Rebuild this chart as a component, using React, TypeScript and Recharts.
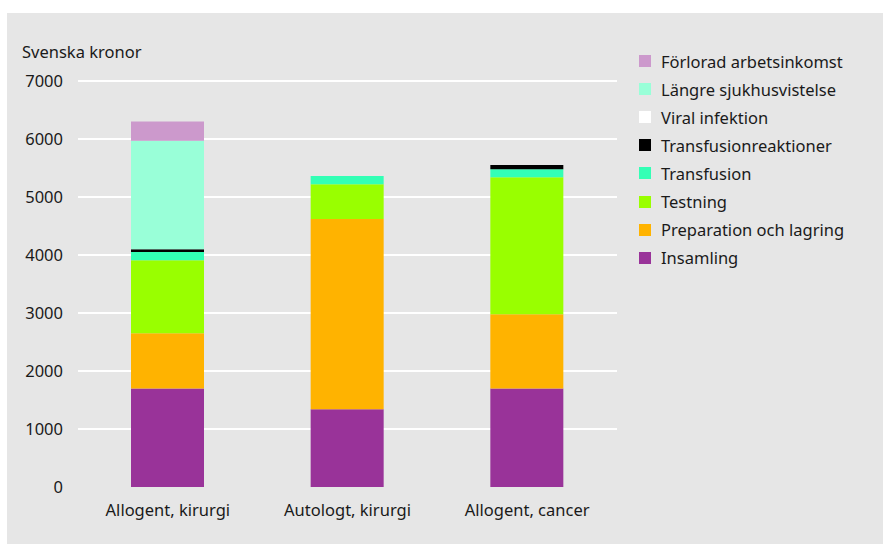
import React from 'react'
import { BarChart, Bar, XAxis, YAxis, CartesianGrid } from 'recharts'

const CATEGORIES = ['Allogent, kirurgi', 'Autologt, kirurgi', 'Allogent, cancer']
const INSAMLING = [1700, 1340, 1700]
const PREPARATION = [950, 3280, 1280]
const TESTNING = [1260, 600, 2360]
const TRANSFUSION = [140, 140, 140]
const REAKTIONER = [50, 0, 70]
const VIRAL = [0, 0, 0]
const LANGRE = [1870, 0, 0]
const FORLORAD = [330, 0, 0]
const Y_TICKS = [0, 1000, 2000, 3000, 4000, 5000, 6000, 7000]
const Y_MAX = 7000

// stacking order bottom -> top
const SERIES = [
  { key: 'insamling', name: 'Insamling', color: '#993399', values: INSAMLING },
  { key: 'preparation', name: 'Preparation och lagring', color: '#ffb300', values: PREPARATION },
  { key: 'testning', name: 'Testning', color: '#99ff00', values: TESTNING },
  { key: 'transfusion', name: 'Transfusion', color: '#33ffb5', values: TRANSFUSION },
  { key: 'reaktioner', name: 'Transfusionreaktioner', color: '#000000', values: REAKTIONER },
  { key: 'viral', name: 'Viral infektion', color: '#ffffff', values: VIRAL },
  { key: 'langre', name: 'Längre sjukhusvistelse', color: '#99ffd8', values: LANGRE },
  { key: 'forlorad', name: 'Förlorad arbetsinkomst', color: '#cc99cc', values: FORLORAD },
]

const data = CATEGORIES.map((name, i) => {
  const row: Record<string, string | number> = { name }
  SERIES.forEach((s) => {
    row[s.key] = s.values[i]
  })
  return row
})

const FONT = '"Noto Sans", sans-serif'
const TEXT = '#1a1a1a'
const FS = 16.5

// grid lines at every tick except the baseline
const gridLines = ({ yAxis, offset }: any) =>
  Y_TICKS.filter((t) => t > 0).map((t) => {
    if (yAxis && typeof yAxis.scale === 'function') return yAxis.scale(t)
    return offset.top + offset.height * (1 - t / Y_MAX)
  })

export default function App() {
  return (
    <div
      style={{
        position: 'absolute',
        left: 0,
        top: 0,
        width: 883,
        height: 544,
        background: '#ffffff',
        fontFamily: FONT,
        color: TEXT,
      }}
    >
      <div
        style={{
          position: 'absolute',
          left: 7,
          top: 13,
          width: 876,
          height: 531,
          background: '#e6e6e6',
        }}
      />
      <div style={{ position: 'absolute', left: 0, top: 0 }}>
        <BarChart
          width={883}
          height={544}
          data={data}
          margin={{ top: 81, right: 266, left: 0, bottom: 0 }}
        >
          <CartesianGrid
            vertical={false}
            stroke="#ffffff"
            strokeWidth={2}
            horizontalCoordinatesGenerator={gridLines}
          />
          <XAxis
            dataKey="name"
            height={57}
            axisLine={false}
            tickLine={false}
            tickSize={0}
            tickMargin={17}
            tick={{ fontSize: FS, fill: TEXT, fontFamily: FONT }}
          />
          <YAxis
            width={78}
            domain={[0, Y_MAX]}
            ticks={Y_TICKS}
            axisLine={false}
            tickLine={false}
            tickSize={0}
            tickMargin={15}
            tick={{ fontSize: FS, fill: TEXT, fontFamily: FONT }}
          />
          {SERIES.map((s) => (
            <Bar
              key={s.key}
              dataKey={s.key}
              name={s.name}
              stackId="a"
              fill={s.color}
              barSize={73}
              isAnimationActive={false}
            />
          ))}
        </BarChart>
      </div>
      <div
        style={{
          position: 'absolute',
          left: 22,
          top: 41,
          fontSize: FS,
          lineHeight: '22px',
        }}
      >
        Svenska kronor
      </div>
      <div style={{ position: 'absolute', left: 639, top: 47 }}>
        {[...SERIES].reverse().map((s) => (
          <div
            key={s.key}
            style={{ display: 'flex', alignItems: 'center', height: 28.1, fontSize: FS }}
          >
            <span
              style={{
                display: 'inline-block',
                width: 12,
                height: 12,
                background: s.color,
                marginRight: 10,
              }}
            />
            <span>{s.name}</span>
          </div>
        ))}
      </div>
    </div>
  )
}
